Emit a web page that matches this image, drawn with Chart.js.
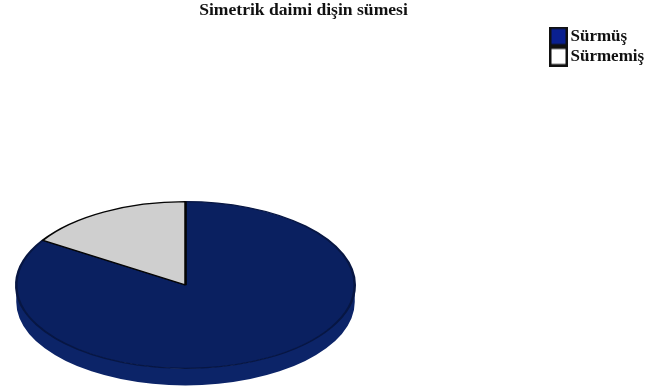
<!DOCTYPE html>
<html><head><meta charset="utf-8">
<script src="https://cdn.jsdelivr.net/npm/chart.js@4"></script>
<style>html,body{margin:0;padding:0;background:#fff}#w{width:668px;height:392px;position:relative}canvas{filter:blur(0.7px)}</style>
</head><body><div id="w"><canvas id="c"></canvas></div>
<script>
const titleText = "Simetrik daimi dişin sümesi";
const categories = ["Sürmüş", "Sürmemiş"];
const values = [84, 16];
const sliceColors = ["#0a2060", "#cfcfcf"];
const sliceBorders = ["#071643", "#050505"];
const legendColors = ["#0a2090", "#ffffff"];
const sideColor = "#0c2468";
const squash = 84 / 170.5, depth = 17, cx = 185.5, cy = 285;

// Legend swatch: box sits right of the image's left margin so the label starts close to it.
function swatch(color) {
  const c = document.createElement("canvas");
  c.width = 25; c.height = 20;
  const g = c.getContext("2d");
  g.fillStyle = color;
  g.strokeStyle = "#111";
  g.lineWidth = 2.5;
  g.beginPath();
  g.rect(7.25, 1.25, 16.5, 17.5);
  g.fill();
  g.stroke();
  return c;
}

const flatPie = {
  id: "flatPie",
  afterLayout(chart) {
    chart.chartArea = {left: cx - 170.5, right: cx + 170.5, top: cy - 170.5, bottom: cy + 170.5, width: 341, height: 341};
    const l = chart.legend, t = chart.titleBlock;
    const lw = l.right - l.left, lh = l.bottom - l.top;
    l.left = 546; l.right = 546 + lw; l.top = 25; l.bottom = 25 + lh;
    t.left = 0; t.right = 607; t.top = 0;
  },
  beforeDatasetsDraw(chart) {
    const a = chart.getDatasetMeta(0).data[0], ctx = chart.ctx;
    ctx.save();
    ctx.beginPath();
    ctx.ellipse(a.x, a.y + depth, a.outerRadius, a.outerRadius * squash, 0, 0, Math.PI);
    ctx.ellipse(a.x, a.y, a.outerRadius, a.outerRadius * squash, 0, Math.PI, 0, true);
    ctx.closePath();
    ctx.fillStyle = sideColor;
    ctx.fill();
    ctx.restore();
    ctx.save();
    ctx.translate(0, a.y);
    ctx.scale(1, squash);
    ctx.translate(0, -a.y);
  },
  afterDatasetsDraw(chart) { chart.ctx.restore(); }
};

new Chart(document.getElementById("c"), {
  type: "pie",
  data: {labels: categories, datasets: [{
    data: values, backgroundColor: sliceColors, borderColor: sliceBorders, borderWidth: 2.5, clip: false
  }]},
  options: {
    responsive: true, maintainAspectRatio: false, animation: false,
    plugins: {
      tooltip: {enabled: false},
      title: {display: true, text: titleText, color: "#111", padding: 0,
        font: {family: "'Liberation Serif'", size: 17.6, weight: "bold"}},
      legend: {position: "right", align: "start",
        labels: {
          color: "#111", usePointStyle: true, pointStyleWidth: 13, boxHeight: 17, padding: 3,
          font: {family: "'Liberation Serif'", size: 17, weight: "bold"},
          generateLabels: () => categories.map((t, i) => ({
            text: t, fillStyle: legendColors[i], strokeStyle: "#111", pointStyle: swatch(legendColors[i]),
            lineWidth: 2, index: i, fontColor: "#111"
          }))
        }}
    }
  },
  plugins: [flatPie]
});
</script></body></html>
